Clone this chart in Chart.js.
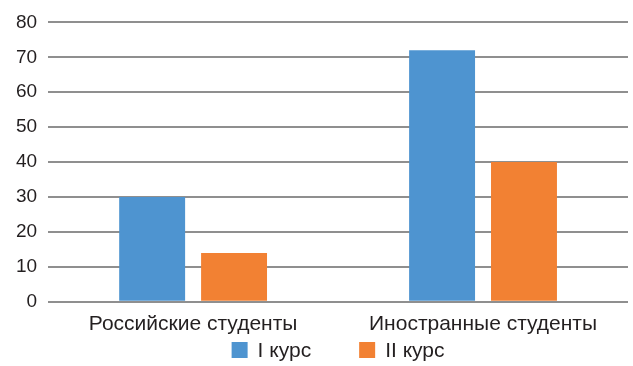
<!DOCTYPE html>
<html>
<head>
<meta charset="utf-8">
<script src="https://cdn.jsdelivr.net/npm/chart.js@4"></script>
<style>
  html, body { margin: 0; padding: 0; background: #fff; }
  #wrap { width: 633px; height: 366px; }
</style>
</head>
<body>
<div id="wrap"><canvas id="c" width="633" height="366"></canvas></div>
<script>
const categories = ['Российские студенты', 'Иностранные студенты'];
const firstYear = [30, 72];
const secondYear = [14, 40];
const seriesNames = ['I курс', 'II курс'];

const FONT = "'Liberation Sans', Arial, sans-serif";
const TEXT = '#231f20';

// Legend row under the axis, centred on the plot area
const bottomLegend = {
  id: 'bottomLegend',
  afterDraw(chart) {
    const ctx = chart.ctx;
    const area = chart.chartArea;
    const box = 16, gapText = 10, gapItem = 48;
    ctx.save();
    ctx.font = '21px ' + FONT;
    const items = chart.data.datasets.map(ds => ({
      label: ds.label,
      color: ds.backgroundColor,
      w: box + gapText + ctx.measureText(ds.label).width
    }));
    const total = items.reduce((s, it) => s + it.w, 0) + gapItem * (items.length - 1);
    let x = (area.left + area.right) / 2 - total / 2;
    const cy = 350;
    ctx.textBaseline = 'middle';
    ctx.textAlign = 'left';
    items.forEach(it => {
      ctx.fillStyle = it.color;
      ctx.fillRect(x, cy - box / 2, box, box);
      ctx.fillStyle = TEXT;
      ctx.fillText(it.label, x + box + gapText, cy + 1);
      x += it.w + gapItem;
    });
    ctx.restore();
  }
};

new Chart(document.getElementById('c'), {
  type: 'bar',
  data: {
    labels: categories,
    datasets: [
      { label: seriesNames[0], data: firstYear, backgroundColor: '#4e94d0', borderWidth: 0 },
      { label: seriesNames[1], data: secondYear, backgroundColor: '#f28133', borderWidth: 0 }
    ]
  },
  options: {
    responsive: false,
    animation: false,
    devicePixelRatio: 1,
    categoryPercentage: 0.565,
    barPercentage: 0.805,
    layout: { padding: { left: 5, right: 5, top: 7, bottom: 27 } },
    plugins: {
      tooltip: { enabled: false },
      legend: { display: false }
    },
    scales: {
      x: {
        grid: { display: false },
        border: { display: false },
        ticks: { font: { family: FONT, size: 21 }, color: TEXT, padding: 2 }
      },
      y: {
        min: 0,
        max: 80,
        ticks: { stepSize: 10, font: { family: FONT, size: 19 }, color: TEXT, padding: 11 },
        grid: { color: '#8f8f8f', lineWidth: 2, drawTicks: false },
        border: { display: false }
      }
    }
  },
  plugins: [bottomLegend]
});
</script>
</body>
</html>
